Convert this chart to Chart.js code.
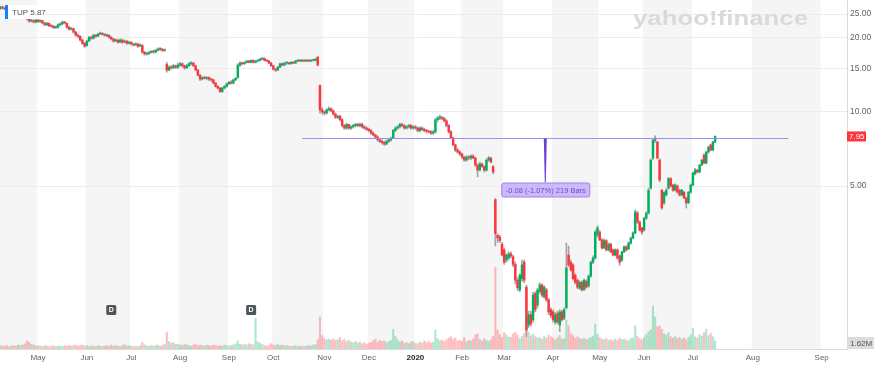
<!DOCTYPE html>
<html>
<head>
<meta charset="utf-8">
<script src="https://cdn.jsdelivr.net/npm/chart.js@4.4.1/dist/chart.umd.min.js"></script>
<style>
  html, body { margin: 0; padding: 0; background: #fff; }
  #wrap { width: 880px; height: 367px; position: relative; }
</style>
</head>
<body>
<div id="wrap"><canvas id="c"></canvas></div>
<script>
// TUP daily candles, Apr 5 2019 -> Jul 15 2020 (one entry per trading day)
const opens = [
  26.3,26.7,26.4,26.2,25.8,25.5,25.9,25.6,25.2,25.4,
  24.9,25.1,24.4,23.9,23.4,23.5,23.2,23.6,23.3,23.5,
  23.0,22.6,22.9,22.4,22.3,22.0,22.1,22.6,22.8,23.2,
  22.9,22.1,21.7,21.8,21.1,20.5,20.3,19.6,19.0,18.6,
  19.4,20.1,19.9,20.5,20.3,20.7,20.9,20.7,20.4,20.5,
  20.1,19.8,19.4,19.6,19.2,19.6,19.2,19.4,19.0,19.2,
  18.9,18.7,18.9,18.5,18.6,17.5,17.2,17.3,17.5,17.6,
  17.5,17.8,18.1,18.0,17.8,15.6,14.8,15.2,15.1,15.4,
  15.2,15.5,15.7,15.4,15.1,15.4,15.7,15.8,15.4,14.8,
  14.1,13.6,13.8,13.7,13.8,13.6,13.5,13.1,12.7,12.5,
  12.1,12.5,12.7,13.0,13.2,13.1,13.5,13.8,15.5,15.8,
  15.7,15.9,16.1,15.9,16.2,15.9,16.1,16.2,16.4,16.5,
  16.2,16.1,15.8,15.4,14.9,14.8,15.2,15.7,15.5,15.8,
  15.8,15.7,15.9,15.8,16.1,16.2,16.1,16.2,16.1,16.2,
  16.1,16.2,16.2,16.7,12.8,10.2,10.0,9.9,10.2,10.3,
  10.1,9.8,9.5,9.6,9.3,8.8,8.6,8.9,8.6,8.7,
  8.8,8.9,8.8,8.9,8.7,8.6,8.5,8.4,8.2,8.06,
  7.9,7.7,7.6,7.5,7.4,7.6,7.7,7.83,8.4,8.6,
  8.7,8.9,8.8,8.6,8.7,8.8,8.6,8.7,8.6,8.4,
  8.6,8.5,8.4,8.35,8.3,8.2,8.3,9.3,9.45,9.5,
  9.4,9.2,8.8,8.3,7.85,7.35,7.0,6.87,6.75,6.55,
  6.37,6.55,6.5,6.62,6.5,6.08,5.8,6.15,6.0,5.8,
  6.37,6.5,6.0,4.4,3.15,3.1,2.9,2.75,2.5,2.55,
  2.65,2.58,2.4,2.07,1.89,2.1,2.45,1.94,1.36,1.5,
  1.43,1.83,1.64,1.86,1.98,1.77,1.89,1.72,1.57,1.54,
  1.4,1.52,1.36,1.54,1.45,1.6,2.62,2.45,2.39,2.17,
  2.07,1.92,2.03,1.9,2.05,1.96,2.15,2.45,2.55,3.16,
  3.25,3.02,2.8,3.0,2.75,2.9,2.75,2.62,2.75,2.6,
  2.5,2.7,2.83,2.78,2.93,3.07,3.22,3.88,3.57,3.38,
  3.31,3.7,3.88,4.9,6.5,7.68,7.55,6.37,4.81,4.27,
  4.6,4.9,5.36,5.05,4.81,5.0,4.81,4.6,4.72,4.47,
  4.27,4.72,5.05,5.6,5.8,5.7,6.08,6.68,6.2,6.87,
  7.35,7.0,7.55
];
const highs = [
  26.9,26.9,26.6,26.4,26.0,26.1,26.0,25.7,25.6,25.5,
  25.3,25.2,24.6,24.0,23.8,23.7,23.8,23.8,23.7,23.6,
  23.1,23.1,23.0,22.6,22.5,22.3,22.8,23.0,23.4,23.3,
  23.0,22.3,22.0,21.9,21.3,20.7,20.4,19.8,19.2,19.6,
  20.3,20.3,20.7,20.6,20.9,21.1,21.0,20.8,20.7,20.6,
  20.3,19.9,19.8,19.7,19.8,19.8,19.6,19.5,19.4,19.3,
  19.0,19.1,19.0,18.9,18.8,17.6,17.4,17.6,17.7,17.8,
  18.0,18.2,18.2,18.1,18.0,15.9,15.4,15.4,15.6,15.5,
  15.8,15.9,15.8,15.5,15.6,15.9,16.0,15.9,15.5,14.9,
  14.2,13.9,14.0,13.9,13.9,13.7,13.6,13.2,12.8,12.6,
  12.6,12.8,13.1,13.3,13.4,13.6,13.8,15.7,16.0,15.9,
  16.0,16.2,16.2,16.3,16.3,16.2,16.3,16.5,16.6,16.6,
  16.3,16.2,15.9,15.5,15.0,15.3,15.8,15.8,15.9,16.0,
  15.9,16.0,16.0,16.2,16.3,16.3,16.3,16.3,16.3,16.3,
  16.3,16.3,16.5,16.8,12.9,10.4,10.1,10.3,10.5,10.4,
  10.2,9.9,9.7,9.7,9.4,8.9,9.0,8.9,8.8,8.9,
  9.0,9.0,9.0,9.0,8.8,8.7,8.6,8.5,8.3,8.1,
  8.0,7.8,7.7,7.6,7.7,7.8,7.9,8.5,8.7,8.8,
  9.0,9.0,8.9,8.8,8.9,8.9,8.8,8.8,8.7,8.7,
  8.7,8.6,8.5,8.4,8.4,8.4,9.4,9.6,9.7,9.6,
  9.5,9.3,8.9,8.4,7.9,7.4,7.1,6.95,6.8,6.6,
  6.65,6.65,6.7,6.7,6.55,6.15,6.25,6.2,6.05,6.45,
  6.6,6.55,6.05,4.45,3.2,3.15,2.95,2.8,2.65,2.7,
  2.7,2.62,2.45,2.12,2.2,2.5,2.5,1.98,1.55,1.55,
  1.85,1.86,1.92,2.02,2.0,1.97,1.92,1.75,1.6,1.57,
  1.53,1.55,1.57,1.57,1.6,2.93,2.85,2.5,2.42,2.2,
  2.1,2.06,2.06,2.1,2.08,2.18,2.48,2.6,3.3,3.45,
  3.3,3.06,3.05,3.03,2.94,2.93,2.78,2.78,2.78,2.62,
  2.72,2.86,2.86,2.96,3.1,3.26,4.0,3.95,3.6,3.4,
  3.74,3.92,4.9,6.45,7.8,8.0,7.6,6.45,4.85,4.75,
  4.88,5.42,5.4,5.08,5.1,5.05,4.85,4.85,4.76,4.5,
  4.76,5.1,5.7,5.9,5.85,6.12,6.42,6.75,6.92,7.25,
  7.4,7.6,8.0
];
const lows = [
  26.1,26.2,26.0,25.6,25.3,25.3,25.4,25.0,25.0,24.7,
  24.7,24.4,23.6,23.1,23.2,23.0,23.0,23.1,23.1,22.8,
  22.4,22.4,22.2,22.1,21.8,21.8,21.9,22.4,22.6,22.8,
  21.9,21.5,21.5,20.9,20.3,20.0,19.4,18.8,18.3,18.5,
  19.3,19.7,19.8,20.1,20.2,20.6,20.5,20.3,20.2,19.9,
  19.6,19.2,19.3,19.0,19.1,19.0,19.1,18.8,18.9,18.7,
  18.5,18.6,18.3,18.4,17.3,17.0,17.0,17.1,17.3,17.3,
  17.4,17.7,17.8,17.6,17.6,14.5,14.7,14.9,15.0,15.0,
  15.0,15.3,15.2,14.9,15.0,15.3,15.5,15.3,14.7,14.0,
  13.4,13.5,13.6,13.5,13.4,13.3,13.0,12.6,12.4,12.0,
  12.0,12.4,12.6,12.9,13.0,13.0,13.4,13.7,15.3,15.5,
  15.6,15.8,15.8,15.8,15.8,15.8,16.0,16.1,16.3,16.1,
  16.0,15.7,15.3,14.8,14.6,14.7,15.1,15.4,15.4,15.6,
  15.6,15.6,15.7,15.7,16.0,16.0,16.0,16.0,16.0,16.0,
  16.0,16.1,16.1,15.4,9.9,9.8,9.7,9.8,10.1,10.0,
  9.7,9.4,9.4,9.2,8.7,8.5,8.5,8.5,8.5,8.6,
  8.7,8.7,8.7,8.6,8.5,8.4,8.3,8.1,8.0,7.8,
  7.6,7.5,7.4,7.3,7.35,7.5,7.6,7.8,8.3,8.5,
  8.6,8.7,8.5,8.5,8.6,8.5,8.5,8.5,8.3,8.3,
  8.4,8.3,8.2,8.2,8.1,8.1,8.2,9.1,9.3,9.3,
  9.1,8.7,8.2,7.8,7.3,6.9,6.8,6.65,6.45,6.3,
  6.3,6.4,6.4,6.45,6.0,5.45,5.75,5.95,5.7,5.75,
  6.3,6.2,5.6,2.85,2.95,2.95,2.6,2.4,2.45,2.5,
  2.55,2.35,2.0,1.88,1.86,2.05,2.02,1.22,1.33,1.35,
  1.4,1.54,1.6,1.83,1.77,1.75,1.7,1.5,1.46,1.4,
  1.37,1.38,1.28,1.41,1.43,1.58,2.35,2.25,2.07,2.0,
  1.91,1.9,1.87,1.88,1.92,1.94,2.13,2.42,2.52,3.1,
  3.0,2.77,2.78,2.72,2.72,2.68,2.6,2.6,2.52,2.38,
  2.47,2.68,2.72,2.75,2.9,3.05,3.2,3.52,3.28,3.18,
  3.28,3.66,3.85,4.85,6.4,7.5,6.45,5.2,4.02,4.2,
  4.55,4.85,4.95,4.75,4.78,4.68,4.55,4.56,4.44,4.07,
  4.24,4.68,5.0,5.55,5.65,5.65,6.05,6.15,6.15,6.8,
  6.95,6.95,7.5
];
const closes = [
  26.7,26.4,26.2,25.8,25.5,25.9,25.6,25.2,25.4,24.9,
  25.1,24.6,23.9,23.4,23.5,23.2,23.6,23.3,23.5,23.0,
  22.6,22.9,22.4,22.3,22.0,22.1,22.6,22.8,23.2,23.0,
  22.1,21.7,21.8,21.1,20.5,20.3,19.6,19.0,18.5,19.4,
  20.1,19.9,20.5,20.3,20.7,20.9,20.7,20.5,20.5,20.1,
  19.8,19.4,19.6,19.2,19.6,19.2,19.4,19.0,19.2,18.9,
  18.7,18.9,18.5,18.7,17.5,17.2,17.3,17.5,17.6,17.5,
  17.8,18.0,18.0,17.8,17.8,14.8,15.2,15.1,15.4,15.2,
  15.5,15.7,15.4,15.1,15.4,15.7,15.8,15.4,14.8,14.1,
  13.6,13.8,13.7,13.8,13.6,13.5,13.1,12.7,12.5,12.1,
  12.5,12.7,13.0,13.2,13.1,13.5,13.7,15.5,15.8,15.7,
  15.9,16.1,15.9,16.2,15.9,16.1,16.2,16.4,16.5,16.2,
  16.1,15.8,15.4,14.9,14.8,15.2,15.7,15.5,15.8,15.8,
  15.7,15.9,15.8,16.1,16.2,16.1,16.2,16.1,16.2,16.1,
  16.2,16.2,16.4,15.5,10.2,10.0,9.9,10.2,10.3,10.1,
  9.8,9.5,9.6,9.3,8.8,8.6,8.9,8.6,8.7,8.8,
  8.9,8.8,8.9,8.7,8.6,8.5,8.4,8.2,8.06,7.9,
  7.7,7.6,7.5,7.4,7.6,7.7,7.83,8.4,8.6,8.7,
  8.9,8.8,8.6,8.7,8.8,8.6,8.7,8.6,8.4,8.6,
  8.5,8.4,8.35,8.3,8.2,8.3,9.3,9.45,9.5,9.4,
  9.2,8.8,8.3,7.85,7.35,7.0,6.87,6.75,6.55,6.37,
  6.55,6.5,6.62,6.5,6.08,5.8,6.15,6.0,5.8,6.37,
  6.5,6.25,5.7,3.2,3.08,3.0,2.62,2.45,2.62,2.65,
  2.6,2.4,2.07,1.93,2.17,2.39,2.07,1.3,1.5,1.38,
  1.8,1.57,1.89,1.98,1.8,1.94,1.72,1.54,1.49,1.43,
  1.5,1.4,1.54,1.43,1.57,2.32,2.39,2.28,2.1,2.03,
  1.94,2.03,1.89,2.07,1.94,2.15,2.45,2.55,3.25,3.38,
  3.02,2.8,3.0,2.75,2.9,2.7,2.62,2.75,2.55,2.45,
  2.7,2.83,2.75,2.93,3.07,3.22,3.92,3.57,3.31,3.25,
  3.7,3.88,4.8,6.37,7.68,7.83,6.5,5.29,4.07,4.7,
  4.81,5.36,5.0,4.81,5.05,4.72,4.6,4.81,4.47,4.27,
  4.72,5.05,5.65,5.8,5.7,6.08,6.37,6.2,6.87,7.2,
  7.0,7.55,7.95
];
// volume, millions of shares
const volumes = [
  0.6,0.5,0.5,0.6,0.4,0.5,0.6,0.5,0.7,0.6,
  0.7,0.9,1.4,1.2,0.8,0.7,0.5,0.6,0.5,0.4,
  0.6,0.5,0.4,0.5,0.6,0.4,0.5,0.5,0.4,0.6,
  0.5,0.6,0.5,0.6,0.7,0.5,0.6,0.7,0.5,0.6,
  0.4,0.5,0.5,0.4,0.6,0.5,0.4,0.5,0.6,0.5,
  0.7,0.5,0.6,0.5,0.4,0.6,0.8,0.5,0.6,0.5,
  0.4,0.5,0.4,0.6,1.1,0.7,0.5,0.5,0.6,0.5,
  0.6,0.7,0.5,0.6,0.8,2.9,1.3,1.0,1.1,0.8,
  0.8,0.7,0.6,0.8,0.7,0.6,0.5,0.7,0.8,0.6,
  0.7,0.6,0.5,0.7,0.6,0.5,0.7,0.6,0.5,0.6,
  0.5,0.7,0.6,0.5,0.6,0.7,0.9,1.4,0.8,0.7,
  0.8,0.7,0.9,0.8,0.7,5.3,1.2,1.0,0.8,0.6,
  0.5,0.6,0.9,0.7,0.6,0.8,0.6,0.7,0.5,0.6,
  0.5,0.4,0.5,0.6,0.4,0.5,0.5,0.4,0.5,0.6,
  0.5,0.7,0.8,1.6,5.5,2.3,1.8,1.6,1.7,1.5,
  1.7,1.5,1.6,2.0,1.4,1.7,1.3,1.5,1.2,1.1,
  1.3,1.0,1.2,0.9,1.1,0.8,1.0,1.1,1.4,1.7,
  1.2,1.5,1.3,1.4,1.1,1.3,1.5,3.4,2.2,1.6,
  1.2,1.4,1.0,1.1,0.9,1.2,1.3,1.0,0.9,1.2,
  1.0,1.4,1.1,1.3,1.0,1.2,3.3,1.8,1.4,1.5,
  1.3,1.6,1.9,2.1,1.7,1.9,1.4,1.5,1.3,2.0,
  1.2,1.5,1.4,1.7,2.4,2.6,1.6,1.4,1.8,1.5,
  1.3,1.6,2.2,14.0,3.3,2.5,2.0,2.8,2.4,2.1,
  2.0,2.6,2.9,2.4,1.8,2.2,2.7,3.5,2.9,2.3,
  2.6,2.1,1.9,2.0,1.7,2.2,1.9,2.4,2.1,1.9,
  1.6,2.0,2.3,1.7,1.8,5.0,4.0,2.6,2.3,1.9,
  2.1,1.8,1.7,1.9,1.6,1.8,2.0,2.2,4.3,2.5,
  2.0,1.7,1.6,1.8,1.5,1.6,1.4,1.7,1.5,1.9,
  1.6,1.7,1.5,1.4,1.8,1.9,4.0,2.2,1.8,1.6,
  2.0,2.5,3.0,3.3,7.4,5.5,3.8,4.0,3.4,2.6,
  2.4,2.8,2.1,1.9,2.2,1.8,2.0,1.7,1.9,1.6,
  2.0,2.4,3.6,2.1,1.9,2.5,2.2,2.8,3.4,2.3,
  2.7,2.1,1.4
];

// x axis: bar slot where each month starts (trading days, calendar days after data ends)
const monthLabels = ['May','Jun','Jul','Aug','Sep','Oct','Nov','Dec','2020','Feb','Mar','Apr','May','Jun','Jul','Aug','Sep'];
const monthStarts = [17, 39, 59, 81, 103, 123, 146, 166, 187, 208, 227, 249, 270, 290, 312, 339, 370];
const priceTicks = [5, 10, 15, 20, 25];
const dividendBars = [50, 113];
const symbolText = 'TUP 5.87';
const lastPrice = 7.95;
const volumeLabel = '1.62M';
const measureFrom = 136, measureBars = 219, measurePrice = 7.85;
const measureText = '-0.08 (-1.07%) 219 Bars';

const FONT = '"Liberation Sans", Arial, sans-serif';
const UP = '#00b061', DOWN = '#ff333a';
Chart.defaults.font.family = FONT;

const isUp = closes.map((c, i) => c >= opens[i]);
const bodyData = closes.map((c, i) => ({ x: i, y: [opens[i], c] }));
const wickData = closes.map((c, i) => ({ x: i, y: [lows[i], highs[i]] }));
const volData = volumes.map((v, i) => ({ x: i, y: v }));

// grey/white month stripes behind everything
const stripesPlugin = {
    id: 'stripes',
    beforeDraw(chart) {
        const { ctx, chartArea: a, scales: { x } } = chart;
        ctx.save();
        ctx.fillStyle = '#fff';
        ctx.fillRect(0, 0, chart.width, chart.height);
        const edges = [a.left, ...monthStarts.map(m => x.getPixelForValue(m - 0.5)), a.right];
        ctx.fillStyle = '#f5f5f5';
        for (let k = 0; k < edges.length - 1; k += 2) {
            const r = Math.min(edges[k + 1], a.right);
            ctx.fillRect(edges[k], a.top, r - edges[k], a.bottom - a.top);
        }
        ctx.restore();
    }
};

// yahoo!finance watermark
const watermarkPlugin = {
    id: 'watermark',
    beforeDatasetsDraw(chart) {
        const { ctx } = chart;
        ctx.save();
        ctx.font = 'bold 21px ' + FONT;
        ctx.fillStyle = '#dadada';
        ctx.textBaseline = 'alphabetic';
        const w = ctx.measureText('yahoo!finance').width;
        ctx.translate(633, 25);
        ctx.scale(175 / w, 1);
        ctx.fillText('yahoo!finance', 0, 0);
        ctx.restore();
    }
};

const overlayPlugin = {
    id: 'overlay',
    afterDatasetsDraw(chart) {
        const { ctx, chartArea: a, scales: { x, y } } = chart;
        ctx.save();

        // measuring line
        const ly = Math.round(y.getPixelForValue(measurePrice)) + 0.5;
        const x1 = x.getPixelForValue(measureFrom), x2 = x.getPixelForValue(measureFrom + measureBars);
        ctx.strokeStyle = '#a28cee';
        ctx.lineWidth = 1.2;
        ctx.beginPath(); ctx.moveTo(x1, ly); ctx.lineTo(x2, ly); ctx.stroke();
        const mx = (x1 + x2) / 2;
        ctx.fillStyle = '#6c3fd6';
        ctx.beginPath();
        ctx.moveTo(mx - 1.5, ly); ctx.lineTo(mx + 1.5, ly); ctx.lineTo(mx + 0.5, ly + 44); ctx.lineTo(mx - 0.5, ly + 44);
        ctx.closePath(); ctx.fill();
        ctx.font = '7.5px ' + FONT;
        const tw = ctx.measureText(measureText).width + 8;
        const bx = mx - tw / 2, by = ly + 44;
        ctx.fillStyle = '#cbbaf8';
        ctx.strokeStyle = '#9d80ef';
        ctx.lineWidth = 1;
        ctx.beginPath(); ctx.roundRect(bx + 0.5, by + 0.5, tw, 14, 2); ctx.fill(); ctx.stroke();
        ctx.fillStyle = '#6a47cf';
        ctx.textAlign = 'center'; ctx.textBaseline = 'middle';
        ctx.fillText(measureText, mx + 0.5, by + 8);

        // dividend markers
        ctx.font = 'bold 7px ' + FONT;
        dividendBars.forEach(d => {
            const dx = x.getPixelForValue(d);
            ctx.fillStyle = '#4f555c';
            ctx.beginPath(); ctx.roundRect(dx - 5, a.bottom - 44, 10, 10, 1.5); ctx.fill();
            ctx.fillStyle = '#fff';
            ctx.fillText('D', dx, a.bottom - 38.5);
        });

        // symbol label top-left
        ctx.fillStyle = '#fff';
        ctx.fillRect(5, 5, 40, 14);
        ctx.fillStyle = '#0a84ff';
        ctx.fillRect(5, 5, 3, 14);
        ctx.fillStyle = '#4b535b';
        ctx.font = '8px ' + FONT;
        ctx.textAlign = 'left';
        ctx.fillText(symbolText, 12, 12.5);
        ctx.restore();
    },
    afterDraw(chart) {
        const { ctx, chartArea: a, scales: { y } } = chart;
        ctx.save();
        ctx.font = '8px ' + FONT;
        ctx.textBaseline = 'middle';
        ctx.textAlign = 'left';
        // last price tag
        const py = y.getPixelForValue(lastPrice);
        ctx.fillStyle = DOWN;
        ctx.fillRect(a.right, py - 5, 19, 10);
        ctx.fillStyle = '#fff';
        ctx.fillText(lastPrice.toFixed(2), a.right + 2, py + 0.5);
        // volume tag
        ctx.fillStyle = '#dcdcdc';
        ctx.fillRect(a.right + 1, a.bottom - 12, 26, 12);
        ctx.fillStyle = '#4b535b';
        ctx.fillText(volumeLabel, a.right + 3, a.bottom - 5.5);
        ctx.restore();
    }
};

new Chart(document.getElementById('c'), {
    type: 'bar',
    data: {
        datasets: [
            {
                label: 'body', data: bodyData, yAxisID: 'y', order: 0,
                backgroundColor: isUp.map(u => u ? UP : DOWN),
                barThickness: 1.8, minBarLength: 1, grouped: false
            },
            {
                label: 'wick', data: wickData, yAxisID: 'y', order: 1,
                backgroundColor: '#a3a3a3',
                barThickness: 1, grouped: false
            },
            {
                label: 'volume', data: volData, yAxisID: 'vol', order: 2,
                backgroundColor: isUp.map(u => u ? 'rgba(0,176,97,0.32)' : 'rgba(255,51,58,0.32)'),
                barThickness: 1.4, grouped: false
            }
        ]
    },
    options: {
        responsive: true,
        maintainAspectRatio: false,
        animation: false,
        layout: { padding: 0 },
        plugins: { legend: { display: false }, tooltip: { enabled: false } },
        scales: {
            x: {
                type: 'linear', position: 'bottom', offset: false,
                min: -0.12, max: 381.4,
                grid: { display: false, drawTicks: false, offset: false },
                border: { display: true, color: '#dcdcdc' },
                afterBuildTicks: s => { s.ticks = monthStarts.map(v => ({ value: v })); },
                afterFit: s => { s.height = 18; s.paddingLeft = 0; s.paddingRight = 0; },
                ticks: {
                    autoSkip: false, maxRotation: 0, padding: 4,
                    callback: v => monthLabels[monthStarts.indexOf(v)],
                    color: c => monthLabels[c.index] === '2020' ? '#232a31' : '#5b636a',
                    font: c => ({ size: 8, weight: monthLabels[c.index] === '2020' ? 'bold' : 'normal' })
                }
            },
            y: {
                type: 'logarithmic', position: 'right',
                min: 1.088, max: 28.5,
                grid: { color: '#ececec', drawTicks: false },
                border: { display: true, color: '#dcdcdc' },
                afterBuildTicks: s => { s.ticks = priceTicks.map(v => ({ value: v })); },
                afterFit: s => { s.width = 33; s.paddingTop = 0; s.paddingBottom = 0; },
                ticks: {
                    padding: 3, color: '#5b636a', font: { size: 8.5 },
                    callback: v => Number(v).toFixed(2)
                }
            },
            vol: {
                type: 'linear', display: false, min: 0, max: 60
            }
        }
    },
    plugins: [stripesPlugin, watermarkPlugin, overlayPlugin]
});
</script>
</body>
</html>
